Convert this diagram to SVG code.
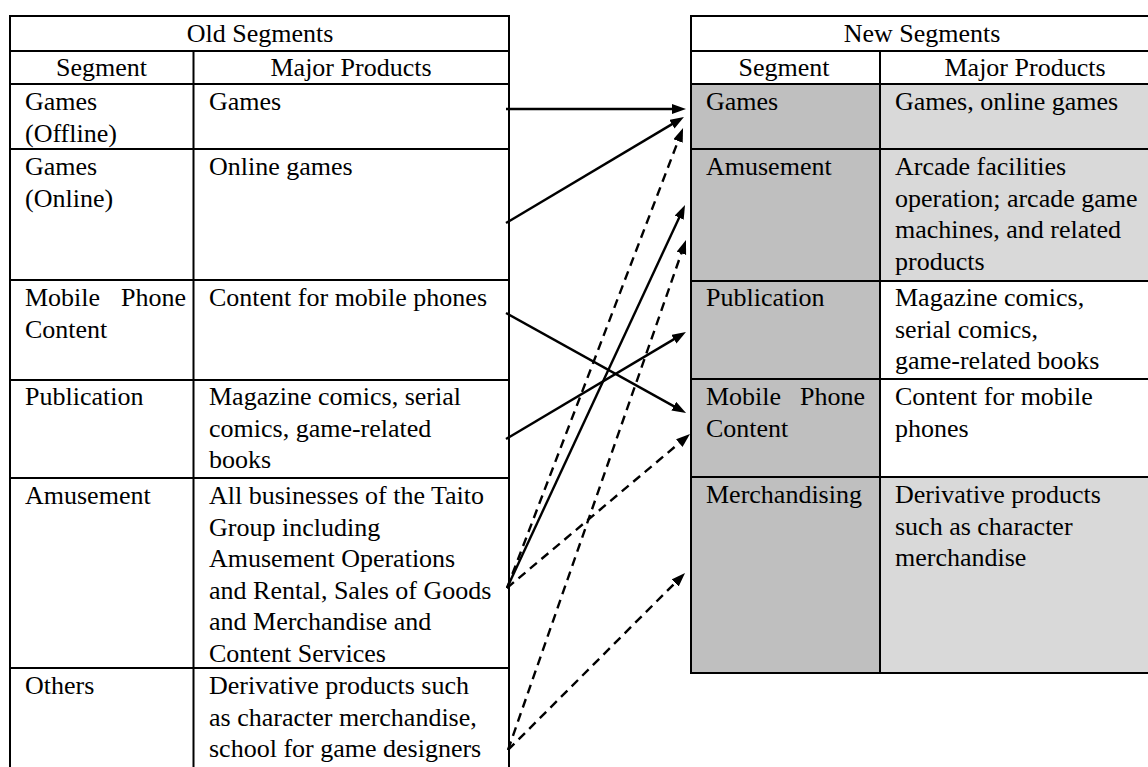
<svg xmlns="http://www.w3.org/2000/svg" width="1148" height="767" viewBox="0 0 1148 767">
<style>
text{font-family:"Liberation Serif","Times New Roman",serif;font-size:26px;fill:#000}
.c{text-anchor:middle}
.grid{stroke:#000;stroke-width:2;fill:none}
.arr{stroke:#000;stroke-width:2.4;fill:none}
.dash{stroke-dasharray:9 6}
</style>
<defs>
<marker id="ah" markerUnits="userSpaceOnUse" markerWidth="16" markerHeight="12" refX="8" refY="5" orient="auto">
<path d="M0,0 L14,5 L0,10 Z" fill="#000"/>
</marker>
</defs>
<rect width="1148" height="767" fill="#fff"/>

<g id="old-table">
<rect class="grid" x="10" y="16" width="499" height="770"/>
<path class="grid" d="M10,51H509M10,84H509M10,149H509M10,280H509M10,380H509M10,478H509M10,668H509M193.5,51V790"/>
<text class="c" x="260" y="42">Old Segments</text>
<text class="c" x="101.5" y="76">Segment</text>
<text class="c" x="351" y="76">Major Products</text>
</g>

<g id="old-games-offline">
<text x="25" y="110">Games</text>
<text x="25" y="141.5">(Offline)</text>
<text x="209" y="110">Games</text>
</g>
<g id="old-games-online">
<text x="25" y="175">Games</text>
<text x="25" y="206.5">(Online)</text>
<text x="209" y="175">Online games</text>
</g>
<g id="old-mobile">
<text x="25" y="306">Mobile<tspan x="121">Phone</tspan></text>
<text x="25" y="337.5">Content</text>
<text x="209" y="306">Content for mobile phones</text>
</g>
<g id="old-publication">
<text x="25" y="405">Publication</text>
<text x="209" y="405">Magazine comics, serial</text>
<text x="209" y="436.5">comics, game-related</text>
<text x="209" y="468">books</text>
</g>
<g id="old-amusement">
<text x="25" y="504">Amusement</text>
<text x="209" y="504">All businesses of the Taito</text>
<text x="209" y="535.5">Group including</text>
<text x="209" y="567">Amusement Operations</text>
<text x="209" y="598.5">and Rental, Sales of Goods</text>
<text x="209" y="630">and Merchandise and</text>
<text x="209" y="661.5">Content Services</text>
</g>
<g id="old-others">
<text x="25" y="694">Others</text>
<text x="209" y="694">Derivative products such</text>
<text x="209" y="725.5">as character merchandise,</text>
<text x="209" y="757">school for game designers</text>
</g>

<g id="new-table">
<rect x="691" y="84" width="189" height="589" fill="#bfbfbf"/>
<rect x="880" y="84" width="290" height="197" fill="#d9d9d9"/>
<rect x="880" y="477" width="290" height="196" fill="#d9d9d9"/>
<rect class="grid" x="691" y="16" width="479" height="657"/>
<path class="grid" d="M691,51H1170M691,84H1170M691,149H1170M691,281H1170M691,379H1170M691,477H1170M880,51V673"/>
<text class="c" x="922" y="42">New Segments</text>
<text class="c" x="784" y="76">Segment</text>
<text class="c" x="1025" y="76">Major Products</text>
</g>

<g id="new-games">
<text x="706" y="110">Games</text>
<text x="895" y="110">Games, online games</text>
</g>
<g id="new-amusement">
<text x="706" y="175">Amusement</text>
<text x="895" y="175">Arcade facilities</text>
<text x="895" y="206.5">operation; arcade game</text>
<text x="895" y="238">machines, and related</text>
<text x="895" y="269.5">products</text>
</g>
<g id="new-publication">
<text x="706" y="306">Publication</text>
<text x="895" y="306">Magazine comics,</text>
<text x="895" y="337.5">serial comics,</text>
<text x="895" y="369">game-related books</text>
</g>
<g id="new-mobile">
<text x="706" y="405">Mobile<tspan x="800">Phone</tspan></text>
<text x="706" y="436.5">Content</text>
<text x="895" y="405">Content for mobile</text>
<text x="895" y="436.5">phones</text>
</g>
<g id="new-merchandising">
<text x="706" y="503">Merchandising</text>
<text x="895" y="503">Derivative products</text>
<text x="895" y="534.5">such as character</text>
<text x="895" y="566">merchandise</text>
</g>

<g id="connectors">
<line class="arr" x1="506" y1="109" x2="680" y2="109" marker-end="url(#ah)"/>
<line class="arr" x1="506" y1="223" x2="678.8" y2="120.1" marker-end="url(#ah)"/>
<line class="arr" x1="506" y1="313" x2="680.8" y2="410.1" marker-end="url(#ah)"/>
<line class="arr" x1="506" y1="439" x2="680.8" y2="335.1" marker-end="url(#ah)"/>
<line class="arr" x1="507" y1="588" x2="682.5" y2="210.4" marker-end="url(#ah)"/>
<line class="arr dash" x1="507" y1="588" x2="680.9" y2="133.6" marker-end="url(#ah)"/>
<line class="arr dash" x1="507" y1="588" x2="685.4" y2="437.9" marker-end="url(#ah)"/>
<line class="arr dash" x1="508" y1="750" x2="684" y2="245.7" marker-end="url(#ah)"/>
<line class="arr dash" x1="508" y1="750" x2="680.8" y2="577.2" marker-end="url(#ah)"/>
</g>
</svg>
